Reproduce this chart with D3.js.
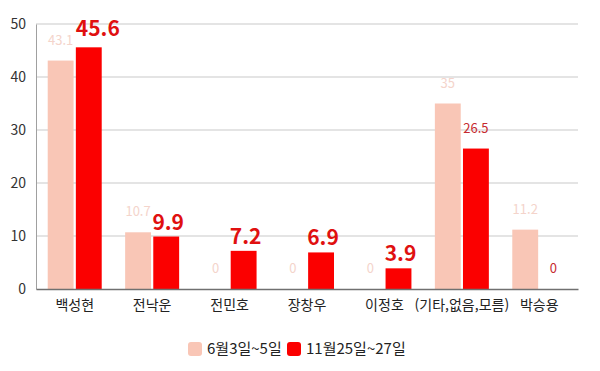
<!DOCTYPE html>
<html lang="ko">
<head>
<meta charset="UTF-8">
<title>chart</title>
<script src="https://cdn.jsdelivr.net/npm/d3@7"></script>
<style>
    body { margin: 0; background: #fff; }
    text { font-family: "Noto Sans CJK KR", "Noto Sans", sans-serif; }
</style>
</head>
<body>
<script>
    // 데이터
    var categories = ['백성현', '전낙운', '전민호', '장창우', '이정호', '(기타,없음,모름)', '박승용']
    var juneValues = [43.1, 10.7, 0, 0, 0, 35, 11.2]
    var novValues = [45.6, 9.9, 7.2, 6.9, 3.9, 26.5, 0]
    var seriesNames = ['6월3일~5일', '11월25일~27일']
    var yTicks = [0, 10, 20, 30, 40, 50]
    var boldLabels = ['백성현', '전낙운', '전민호', '장창우', '이정호']

    var width = 600, height = 371
    var padding = {top: 24, right: 22, bottom: 82, left: 36}
    var lightColor = '#f9c6b6', redColor = '#fb0000'

    var svg = d3.select('body').append('svg')
        .attr('width', width)
        .attr('height', height)

    var x = d3.scaleBand()
        .domain(categories)
        .range([padding.left, width - padding.right])
    var inner = d3.scaleBand()
        .domain([0, 1])
        .range([0, 54])
        .paddingInner(0.08)
    var y = d3.scaleLinear()
        .domain([0, 50])
        .range([height - padding.bottom, padding.top])

    // 격자선
    svg.append('g')
        .selectAll('line')
        .data(yTicks.slice(1))
        .enter().append('line')
        .attr('x1', padding.left)
        .attr('x2', width - padding.right)
        .attr('y1', d => y(d))
        .attr('y2', d => y(d))
        .attr('stroke', '#c9c9c9')
        .attr('stroke-width', 1)

    var yAxis = svg.append('g')
        .attr('transform', `translate(${padding.left}, 0)`)
        .call(d3.axisLeft(y).tickValues(yTicks).tickSize(0).tickPadding(10))
    yAxis.select('.domain').attr('stroke', '#a0a0a0')
    yAxis.selectAll('text').attr('font-size', 14).attr('fill', '#333')

    var groups = svg.selectAll('.grp')
        .data(categories)
        .enter().append('g')
        .attr('class', 'grp')
        .attr('transform', d => `translate(${x(d) + x.bandwidth() / 2 - 27}, 0)`)

    var rows = [juneValues, novValues]
    rows.forEach((vals, s) => {
        groups.append('rect')
            .attr('x', inner(s))
            .attr('width', inner.bandwidth())
            .attr('y', (d, i) => y(vals[i]))
            .attr('height', (d, i) => y(0) - y(vals[i]))
            .attr('fill', s == 0 ? lightColor : redColor)

        var big = d => s == 1 && boldLabels.includes(d)
        groups.append('text')
            .attr('x', (d, i) => {
                var cx = inner(s) + inner.bandwidth() / 2
                // 옆 막대 라벨과 겹치면 오른쪽으로 비킴
                if (big(d) && vals[i] > 40) cx += 9
                else if (big(d)) cx += 2
                return cx
            })
            .attr('text-anchor', 'middle')
            .attr('y', (d, i) => y(vals[i]) - (big(d) ? (vals[i] > 40 ? 11 : 7) : 16))
            .attr('font-size', d => big(d) ? 21 : 13)
            .attr('font-weight', d => big(d) ? 'bold' : 'normal')
            .attr('fill', d => s == 0 ? '#f4d4cb' : (boldLabels.includes(d) ? '#e01010' : '#c62a2f'))
            .text((d, i) => vals[i])
    })

    // x축
    var xAxis = svg.append('g')
        .attr('transform', `translate(0, ${y(0)})`)
        .call(d3.axisBottom(x).tickSize(0).tickPadding(11))
    xAxis.select('.domain').attr('stroke', '#707070').attr('stroke-width', 1.5)
    xAxis.selectAll('text').attr('font-size', 14).attr('fill', '#222')

    // 범례
    var legendX = [188, 287]
    var legend = svg.selectAll('.legend')
        .data(seriesNames)
        .enter().append('g')
        .attr('class', 'legend')
        .attr('transform', (d, i) => `translate(${legendX[i]}, 342)`)
    legend.append('rect')
        .attr('width', 14).attr('height', 14)
        .attr('rx', 3)
        .attr('fill', (d, i) => i == 0 ? lightColor : redColor)
    legend.append('text')
        .attr('x', 19).attr('y', 12)
        .attr('font-size', 15)
        .attr('fill', '#222')
        .text(d => d)
</script>
</body>
</html>
